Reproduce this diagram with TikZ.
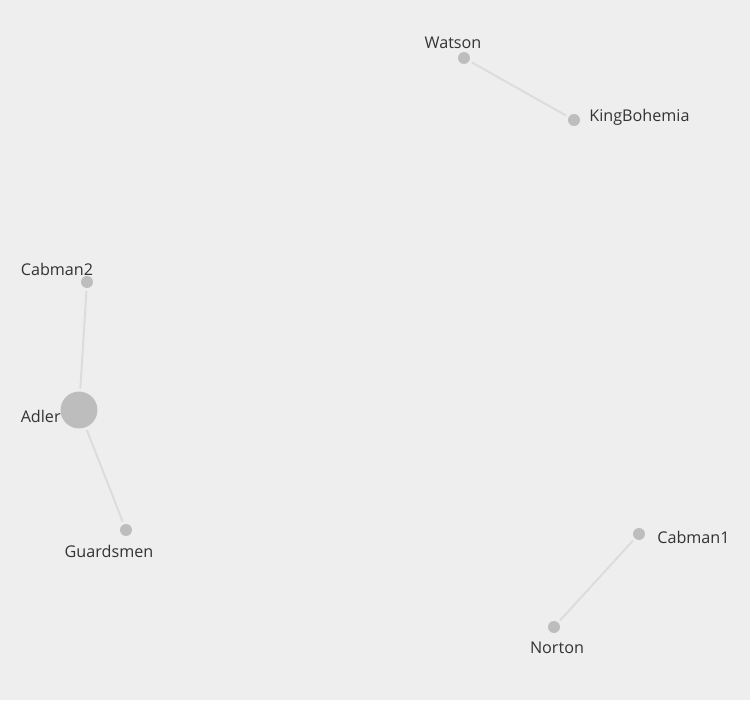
\documentclass[tikz,border=0pt]{standalone}
\usepackage{fontspec}
\setmainfont{Open Sans}
\definecolor{bgcol}{HTML}{EEEEEE}
\definecolor{dotcol}{HTML}{BDBDBD}
\definecolor{edgecol}{HTML}{DCDCDC}
\definecolor{txtcol}{HTML}{333333}
\tikzstyle{person} = [circle,fill=dotcol,inner sep=0pt,minimum size=6.8pt]
\tikzstyle{hub} = [circle,fill=dotcol,inner sep=0pt,minimum size=21pt]
\tikzstyle{tag} = [inner sep=0pt,text=txtcol,font=\fontsize{9.2}{11}\selectfont]
\tikzstyle{link} = [draw=edgecol,line width=1.1pt,shorten <=1.5pt,shorten >=1.5pt]

\begin{document}
\begin{tikzpicture}[x=0.02cm,y=-0.02cm]
	\fill[bgcol] (0,0) rectangle (750,700);
	\useasboundingbox (0,0) rectangle (750,700);
	\node[person] (watson) at (464,58) {};
	\node[tag] (watsont) at (453,43) {Watson};
	\node[person] (king) at (574,120) {};
	\node[tag,anchor=west] (kingt) at (589,117) {KingBohemia};
	\node[person] (cab2) at (87,282) {};
	\node[tag] (cab2t) at (57,269) {Cabman2};
	\node[hub] (adler) at (79,410) {};
	\node[tag,anchor=east] (adlert) at (61,416) {Adler};
	\node[person] (guard) at (126,530) {};
	\node[tag] (guardt) at (109,551) {Guardsmen};
	\node[person] (cab1) at (639,534) {};
	\node[tag,anchor=west] (cab1t) at (657,537) {Cabman1};
	\node[person] (norton) at (554,627) {};
	\node[tag] (nortont) at (557,648) {Norton};
	\draw[link] (watson) -- (king);
	\draw[link] (cab2) -- (adler);
	\draw[link] (adler) -- (guard);
	\draw[link] (cab1) -- (norton);
\end{tikzpicture}
\end{document}
